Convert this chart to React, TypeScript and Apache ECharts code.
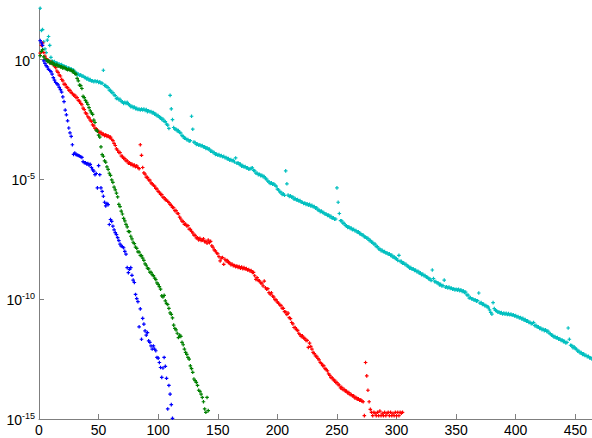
import React, { useEffect, useRef } from "react";
import * as echarts from "echarts";

// log10 of the values; point i is drawn at x = i + 1
const blueLog10 = [
  0.8, 0.7, 0.6, -0.05, -0.15, -0.25, -0.3, -0.4, -0.45, -0.5,
  -0.6, -0.75, -0.85, -0.95, -1.0, -1.05, -1.15, -1.25, -1.35, -1.55,
  -1.75, -2.1, -2.3, -2.55, -2.85, -3.05, -3.2, -3.55, -3.95, -3.9,
  -3.95, -3.98, -4.0, -4.02, -4.05, -4.08, -4.25, -4.3, -4.3, -4.35,
  -4.33, -4.4, -4.37, -4.5, -4.6, -4.65, -4.8, -4.75, -5.35, -4.42,
  -4.8, -5.35, -5.5, -5.7, -5.95, -6.1, -6.0, -6.05, -6.88, -6.67,
  -6.75, -6.95, -7.1, -7.22, -7.3, -7.43, -7.55, -7.7, -7.78, -7.8,
  -7.85, -8.0, -8.12, -8.68, -8.89, -8.75, -8.68, -9.0, -9.2, -9.3,
  -9.8, -9.97, -10.1, -11.15, -10.4, -11.67, -10.8, -11.04, -11.32, -11.5,
  -11.39, -11.74, -11.8, -11.95, -12.08, -11.95, -12.08, -12.15, -12.43, -12.46,
  -12.64, -12.85, -13.26, -12.87, -12.43, -12.8, -13.3, -14.58, -13.6, -13.96,
  -14.4, -14.97,
];

const greenLog10 = [
  0.17, 0.35, 0.42, 0.12, 0.02, 0.0, -0.07, -0.03, -0.12, -0.14,
  -0.1, -0.2, -0.18, -0.24, -0.19, -0.27, -0.26, -0.3, -0.28, -0.35,
  -0.32, -0.36, -0.38, -0.42, -0.39, -0.44, -0.43, -0.5, -0.47, -0.57,
  -0.6, -0.78, -0.88, -1.06, -1.08, -1.2, -1.53, -1.58, -1.7, -1.78,
  -1.87, -2.0, -2.13, -2.22, -2.28, -2.52, -2.62, -2.94, -2.98, -3.15,
  -3.23, -3.64, -3.96, -4.03, -4.22, -4.28, -4.47, -4.58, -4.74, -4.83,
  -5.02, -5.12, -5.32, -5.43, -5.57, -5.73, -6.04, -6.13, -6.32, -6.44,
  -6.62, -6.73, -6.87, -6.98, -7.17, -7.18, -7.37, -7.48, -7.62, -7.68,
  -7.82, -7.88, -8.02, -8.03, -8.17, -8.18, -8.28, -8.38, -8.52, -8.58,
  -8.7, -8.73, -8.87, -8.88, -8.97, -9.01, -9.12, -9.18, -9.32, -9.38,
  -9.47, -9.58, -9.86, -9.9, -9.84, -10.07, -10.18, -10.22, -10.38, -10.57,
  -10.63, -10.78, -11.08, -11.22, -11.28, -11.42, -11.6, -11.5, -11.55, -11.8,
  -11.9, -12.08, -12.22, -12.3, -12.43, -12.5, -12.78, -12.9, -13.05, -13.33,
  -13.4, -13.47, -13.6, -13.8, -13.85, -13.96, -14.1, -14.28, -14.58, -14.72,
  -14.1, -14.65,
];

const redLog10 = [
  0.28, 0.6, 0.7, 0.3, 0.15, 0.05, 0.0, -0.03, -0.12, -0.1,
  -0.17, -0.18, -0.27, -0.33, -0.47, -0.53, -0.64, -0.68, -0.82, -0.88,
  -1.02, -1.03, -1.14, -1.16, -1.27, -1.28, -1.37, -1.4, -1.48, -1.48,
  -1.57, -1.58, -1.7, -1.73, -1.82, -1.88, -2.02, -2.08, -2.22, -2.26,
  -2.38, -2.43, -2.52, -2.58, -2.72, -2.76, -2.87, -2.88, -2.97, -2.98,
  -3.05, -3.03, -3.12, -3.1, -3.17, -3.13, -3.2, -3.18, -3.24, -3.23,
  -3.32, -3.38, -3.49, -3.58, -3.72, -3.78, -3.87, -3.88, -4.02, -4.03,
  -4.12, -4.13, -4.22, -4.22, -4.32, -4.3, -4.37, -4.36, -4.42, -4.4,
  -4.47, -4.43, -4.5, -4.55, -3.55, -3.99, -4.5, -4.72, -4.78, -4.9,
  -4.91, -5.02, -5.03, -5.14, -5.18, -5.24, -5.28, -5.37, -5.4, -5.5,
  -5.53, -5.62, -5.63, -5.74, -5.76, -5.84, -5.86, -5.92, -5.96, -6.04,
  -6.08, -6.17, -6.18, -6.3, -6.3, -6.41, -6.43, -6.57, -6.65, -6.74,
  -6.76, -6.87, -6.86, -6.94, -6.93, -7.07, -7.08, -7.17, -7.23, -7.32,
  -7.33, -7.44, -7.43, -7.52, -7.46, -7.54, -7.53, -7.48, -7.6, -7.58,
  -7.66, -7.53, -7.64, -7.58, -7.77, -7.83, -7.94, -7.98, -8.07, -8.1,
  -8.22, -8.4, -8.28, -8.26, -8.54, -8.33, -8.4, -8.38, -8.47, -8.48,
  -8.56, -8.53, -8.6, -8.59, -8.64, -8.61, -8.67, -8.64, -8.7, -8.66,
  -8.72, -8.68, -8.74, -8.72, -8.78, -8.76, -8.82, -8.8, -8.88, -8.88,
  -9.02, -9.17, -9.1, -9.22, -9.23, -9.32, -9.33, -9.44, -9.24, -9.52,
  -9.58, -9.56, -9.72, -9.79, -9.73, -9.87, -9.91, -10.02, -10.03, -10.12,
  -10.16, -10.24, -10.26, -10.37, -10.38, -10.52, -10.53, -10.64, -10.58, -10.77,
  -10.81, -10.97, -11.03, -11.18, -11.18, -11.27, -11.3, -11.42, -11.48, -11.55,
  -11.53, -11.62, -11.63, -11.72, -11.72, -12.01, -11.83, -11.97, -12.08, -12.22,
  -12.27, -12.37, -12.38, -12.47, -12.53, -12.64, -12.68, -12.77, -12.78, -12.9,
  -12.93, -12.99, -13.12, -13.18, -13.27, -13.28, -13.37, -13.38, -13.47, -13.48,
  -13.57, -13.58, -13.7, -13.68, -13.77, -13.76, -13.84, -13.83, -13.91, -13.9,
  -13.98, -13.98, -14.04, -14.03, -14.12, -14.1, -14.17, -14.16, -14.22, -14.2,
  -14.26, -14.28, -14.86, -12.64, -13.2, -13.8, -14.28, -14.6, -14.72, -14.86,
  -14.72, -14.76, -14.86, -14.72, -14.86, -14.67, -14.86, -14.76, -14.86, -14.72,
  -14.86, -14.76, -14.72, -14.86, -14.72, -14.86, -14.76, -14.86, -14.72, -14.86,
  -14.72, -14.86, -14.72, -14.76, -14.72,
];

const cyanLog10 = [
  2.15, 1.22, 1.26, 0.75, 0.45, 0.3, 0.82, 0.97, 0.6, 0.1,
  -0.05, -0.12, -0.08, -0.14, -0.13, -0.2, -0.18, -0.22, -0.2, -0.27,
  -0.26, -0.32, -0.31, -0.37, -0.34, -0.4, -0.38, -0.44, -0.43, -0.52,
  -0.53, -0.62, -0.6, -0.65, -0.63, -0.69, -0.68, -0.74, -0.74, -0.8,
  -0.78, -0.85, -0.83, -0.89, -0.88, -0.92, -0.88, -0.92, -0.9, -0.95,
  -0.92, -0.98, -0.98, -0.44, -1.07, -1.08, -1.14, -1.16, -1.27, -1.28,
  -1.37, -1.37, -1.47, -1.5, -1.62, -1.6, -1.67, -1.65, -1.74, -1.76,
  -1.82, -1.78, -1.82, -1.78, -1.87, -1.88, -1.96, -1.94, -2.0, -1.98,
  -2.04, -2.03, -2.08, -2.06, -2.1, -2.06, -2.1, -2.06, -2.12, -2.08,
  -2.17, -2.13, -2.17, -2.16, -2.22, -2.2, -2.27, -2.27, -2.34, -2.33,
  -2.41, -2.41, -2.49, -2.48, -2.57, -2.58, -2.69, -2.73, -2.87, -1.49,
  -2.05, -2.5, -2.83, -2.9, -2.9, -2.97, -2.96, -3.04, -3.06, -3.17,
  -3.2, -3.28, -3.28, -3.34, -3.33, -3.4, -3.38, -2.36, -2.9, -3.44,
  -3.46, -3.54, -3.52, -3.57, -3.55, -3.6, -3.58, -3.64, -3.63, -3.7,
  -3.68, -3.74, -3.73, -3.82, -3.81, -3.87, -3.88, -3.95, -3.94, -3.99,
  -3.96, -4.02, -4.0, -4.05, -4.03, -4.09, -4.08, -4.14, -4.13, -4.19,
  -4.17, -4.22, -4.2, -4.27, -4.1, -4.32, -4.3, -4.37, -4.36, -4.44,
  -4.42, -4.48, -4.46, -4.52, -4.51, -4.57, -4.56, -4.53, -4.51, -4.62,
  -4.64, -4.74, -4.73, -4.8, -4.78, -4.84, -4.82, -4.88, -4.88, -4.97,
  -4.98, -5.07, -5.1, -5.17, -5.14, -5.2, -5.18, -5.24, -5.28, -5.4,
  -5.43, -5.52, -5.53, -5.62, -5.6, -5.66, -4.64, -5.18, -5.65, -5.71,
  -5.68, -5.74, -5.73, -5.82, -5.8, -5.85, -5.84, -5.9, -5.88, -5.95,
  -5.95, -6.0, -5.98, -6.04, -6.02, -6.07, -6.04, -6.1, -6.08, -6.14,
  -6.13, -6.2, -6.18, -6.27, -6.28, -6.34, -6.32, -6.38, -6.38, -6.45,
  -6.44, -6.5, -6.48, -6.55, -6.54, -6.62, -6.6, -6.66, -6.65, -5.35,
  -5.95, -6.42, -6.72, -6.73, -6.82, -6.83, -6.92, -6.93, -7.0, -6.98,
  -7.04, -7.03, -7.1, -7.08, -7.14, -7.13, -7.2, -7.18, -7.26, -7.26,
  -7.32, -7.32, -7.4, -7.4, -7.45, -7.46, -7.54, -7.54, -7.62, -7.62,
  -7.7, -7.7, -7.8, -7.8, -7.9, -7.9, -7.97, -7.96, -8.02, -8.01,
  -8.07, -8.06, -8.12, -8.1, -8.17, -8.16, -8.24, -8.23, -8.3, -8.3,
  -8.38, -8.17, -8.42, -8.42, -8.5, -8.48, -8.55, -8.54, -8.62, -8.62,
  -8.7, -8.68, -8.75, -8.73, -8.8, -8.78, -8.85, -8.83, -8.91, -8.9,
  -8.97, -8.95, -9.02, -9.01, -9.08, -9.08, -9.15, -9.15, -9.22, -8.78,
  -9.14, -9.27, -9.26, -9.32, -9.32, -9.4, -9.38, -9.44, -9.43, -9.2,
  -9.5, -9.48, -9.53, -9.49, -9.55, -9.53, -9.58, -9.56, -9.61, -9.58,
  -9.62, -9.59, -9.64, -9.61, -9.67, -9.65, -9.72, -9.7, -9.82, -9.83,
  -9.95, -9.93, -9.99, -9.98, -10.04, -10.02, -10.08, -10.06, -9.74, -10.16,
  -10.14, -10.22, -10.2, -10.27, -10.26, -10.32, -10.33, -10.44, -10.55, -10.62,
  -10.14, -10.39, -10.47, -10.48, -10.54, -10.53, -10.58, -10.56, -10.61, -10.58,
  -10.62, -10.59, -10.64, -10.6, -10.65, -10.62, -10.67, -10.65, -10.7, -10.68,
  -10.74, -10.72, -10.78, -10.76, -10.82, -10.8, -10.87, -10.85, -10.92, -10.9,
  -10.97, -10.96, -11.02, -11.01, -10.97, -11.1, -11.09, -11.16, -11.15, -11.22,
  -11.2, -11.27, -11.25, -11.31, -11.28, -11.34, -11.33, -11.42, -11.43, -11.5,
  -11.51, -11.57, -11.56, -11.62, -11.6, -11.67, -11.65, -11.72, -11.7, -11.77,
  -11.76, -11.82, -11.8, -11.2, -11.67, -11.92, -11.93, -12.02, -11.99, -12.07,
  -12.08, -12.17, -12.16, -12.24, -12.23, -12.3, -12.28, -12.35, -12.34, -12.4,
  -12.38, -12.45, -12.44, -12.5,
];

const xTickInterval = 50;
const xMax = 464;
const yMinExp = -15;
const yMaxExp = 2.16;
const yTickValues = [1e-15, 1e-10, 1e-5, 1];

const colors = {
  cyan: "#00bfbf",
  red: "#ff0000",
  green: "#008000",
  blue: "#0000ff",
};

const plusSymbol = "path://M1,0H2V1H3V2H2V3H1V2H0V1H1Z";
const fontFamily = "'Liberation Sans', Arial, sans-serif";
const axisGray = "#7f7f7f";

function toPoints(exps: number[]) {
  return exps.map((e, i) => [i + 1, Math.pow(10, e)]);
}

function makeSeries(name: string, exps: number[], color: string) {
  return {
    name,
    type: "scatter",
    data: toPoints(exps),
    symbol: plusSymbol,
    symbolSize: 3.6,
    itemStyle: { color, opacity: 1 },
    emphasis: { disabled: true },
    silent: true,
  };
}

export default function App() {
  const ref = useRef<HTMLDivElement>(null);
  useEffect(() => {
    if (!ref.current) return;
    const chart = echarts.init(ref.current, null, { renderer: "svg" });
    const option = {
      animation: false,
      backgroundColor: "#ffffff",
      grid: { left: 39, right: 0, top: 8, bottom: 19, containLabel: false },
      xAxis: {
        type: "value",
        min: 0,
        max: xMax,
        interval: xTickInterval,
        axisLine: { show: true, lineStyle: { color: axisGray, width: 1 } },
        axisTick: { show: true, inside: true, length: 5, lineStyle: { color: axisGray } },
        axisLabel: {
          color: "#000",
          fontSize: 14,
          fontFamily,
          margin: 4,
          showMaxLabel: false,
        },
        splitLine: { show: false },
      },
      yAxis: {
        type: "log",
        logBase: 10,
        min: Math.pow(10, yMinExp),
        max: Math.pow(10, yMaxExp),
        axisLine: { show: true, lineStyle: { color: axisGray, width: 1 } },
        axisTick: {
          show: true,
          inside: true,
          length: 5,
          lineStyle: { color: axisGray },
          customValues: yTickValues,
        },
        axisLabel: {
          customValues: yTickValues,
          margin: 4,
          formatter: (v: number) => {
            const e = Math.round(Math.log10(v));
            return `{b|10}{s|${e}}`;
          },
          rich: {
            b: { fontSize: 14, fontFamily, color: "#000", lineHeight: 16, verticalAlign: "bottom" },
            s: { fontSize: 9, fontFamily, color: "#000", lineHeight: 16, verticalAlign: "top" },
          },
        },
        splitLine: { show: false },
        minorTick: { show: false },
      },
      series: [
        makeSeries("cyan", cyanLog10, colors.cyan),
        makeSeries("red", redLog10, colors.red),
        makeSeries("green", greenLog10, colors.green),
        makeSeries("blue", blueLog10, colors.blue),
      ],
    };
    chart.setOption(option as any);
    return () => chart.dispose();
  }, []);
  return (
    <div
      ref={ref}
      style={{ position: "absolute", left: 0, top: 0, width: 592, height: 438, background: "#fff" }}
    />
  );
}
